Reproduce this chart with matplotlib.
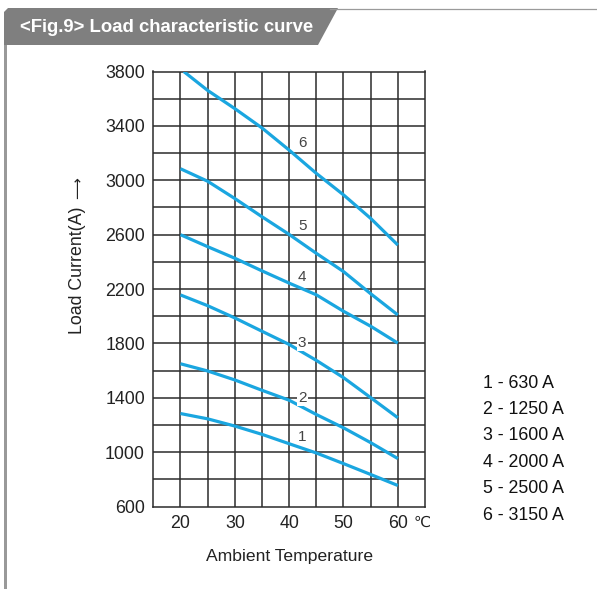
"""Load characteristic curve (Fig.9) recreation."""
import matplotlib
matplotlib.use("Agg")
import matplotlib.pyplot as plt
from matplotlib.patches import Polygon, Rectangle
from matplotlib.lines import Line2D

# ----- data -----
TEMPS = [20, 25, 30, 35, 40, 45, 50, 55, 60]
CURVE_1 = [1285, 1246, 1193, 1132, 1063, 995, 917, 837, 756]
CURVE_2 = [1651, 1598, 1532, 1456, 1383, 1278, 1180, 1071, 954]
CURVE_3 = [2157, 2078, 1988, 1890, 1793, 1676, 1549, 1402, 1254]
CURVE_4 = [2600, 2512, 2427, 2334, 2244, 2158, 2037, 1927, 1803]
CURVE_5 = [3085, 2993, 2866, 2732, 2602, 2463, 2329, 2166, 2010]
# curve 6 starts just past 20 degC at the top of the grid
TEMPS_6 = [20.6, 25, 30, 35, 40, 45, 50, 55, 60]
CURVE_6 = [3800, 3661, 3527, 3385, 3222, 3051, 2893, 2720, 2524]

CURVE_LABELS = ["1", "2", "3", "4", "5", "6"]
LABEL_POS = [(42.3, 1115), (42.4, 1401), (42.4, 1806), (42.4, 2288), (42.4, 2665), (42.4, 3272)]
LEGEND = ["1 - 630 A", "2 - 1250 A", "3 - 1600 A", "4 - 2000 A", "5 - 2500 A", "6 - 3150 A"]

Y_TICKS = [600, 1000, 1400, 1800, 2200, 2600, 3000, 3400, 3800]
X_TICKS = [20, 30, 40, 50, 60]

LINE_COLOR = "#1aa6e0"
GRID_COLOR = "#2b2b2b"
GRAY = "#7f7f7f"
TEXT = "#222222"
FONT = ["Liberation Sans", "DejaVu Sans"]

W, H = 597, 589


def fx(px):
    return px / W


def fy(py):
    return 1 - py / H


def main():
    plt.rcParams["font.family"] = FONT
    fig = plt.figure(figsize=(W / 100, H / 100), dpi=100)

    # header tab
    tab = Polygon([(fx(4), fy(45)), (fx(4), fy(12)), (fx(8), fy(8)), (fx(338), fy(8)),
                   (fx(318), fy(45))], closed=True, transform=fig.transFigure,
                  facecolor=GRAY, edgecolor="none")
    fig.patches.append(tab)
    fig.lines.append(Line2D([fx(330), fx(597)], [fy(8.5), fy(8.5)], transform=fig.transFigure,
                            color="#9a9a9a", linewidth=0.9))
    fig.patches.append(Rectangle((fx(4), 0), fx(3), fy(45), transform=fig.transFigure,
                                 facecolor="#999999", edgecolor="none"))
    fig.text(fx(20), fy(27), "<Fig.9> Load characteristic curve", color="white",
             fontsize=13.3, fontweight="bold", va="center", ha="left")

    ax = fig.add_axes([fx(153.3), fy(506.7), fx(425 - 153.3), (506.7 - 71.5) / H])
    ax.set_xlim(15, 65)
    ax.set_ylim(600, 3800)

    for x in range(20, 65, 5):
        ax.axvline(x, color=GRID_COLOR, linewidth=1.1, zorder=1)
    for y in range(800, 3800, 200):
        ax.axhline(y, color=GRID_COLOR, linewidth=1.1, zorder=1)
    for s in ax.spines.values():
        s.set_color(GRID_COLOR)
        s.set_linewidth(1.1)

    curves = [(TEMPS, CURVE_1), (TEMPS, CURVE_2), (TEMPS, CURVE_3),
              (TEMPS, CURVE_4), (TEMPS, CURVE_5), (TEMPS_6, CURVE_6)]
    for xs, ys in curves:
        ax.plot(xs, ys, color=LINE_COLOR, linewidth=2.3, zorder=3,
                solid_capstyle="butt", solid_joinstyle="round")

    for lab, (x, y) in zip(CURVE_LABELS, LABEL_POS):
        ax.text(x, y, lab, fontsize=11, color="#444444", ha="center", va="center", zorder=4,
                bbox=dict(facecolor="white", edgecolor="none", pad=1.0) if lab in ("2", "3") else None)

    ax.set_xticks(X_TICKS)
    ax.set_yticks(Y_TICKS)
    ax.set_xticklabels([str(t) for t in X_TICKS])
    ax.tick_params(length=0, labelsize=12.8, colors=TEXT, pad=6)
    # degree sign after the last x tick
    ax.text(64.5, 600 - 8.3 / 0.136, "℃", fontsize=11, color=TEXT,
            ha="center", va="top", family=["DejaVu Sans"])

    ax.set_xlabel("Ambient Temperature", fontsize=12.6, color=TEXT, labelpad=12)
    fig.text(fx(78), fy(334), "Load Current(A)", rotation=90, fontsize=12.8,
             color=TEXT, ha="center", va="bottom")
    fig.text(fx(78.5), fy(199), "⟶", rotation=90, fontsize=11, color=TEXT,
             ha="center", va="bottom", family=["DejaVu Sans"])

    for i, t in enumerate(LEGEND):
        fig.text(fx(483), fy(383 + i * 26.4), t, fontsize=12.8, color="#111111",
                 ha="left", va="center")

    fig.savefig("out.png", dpi=100)


if __name__ == "__main__":
    main()
